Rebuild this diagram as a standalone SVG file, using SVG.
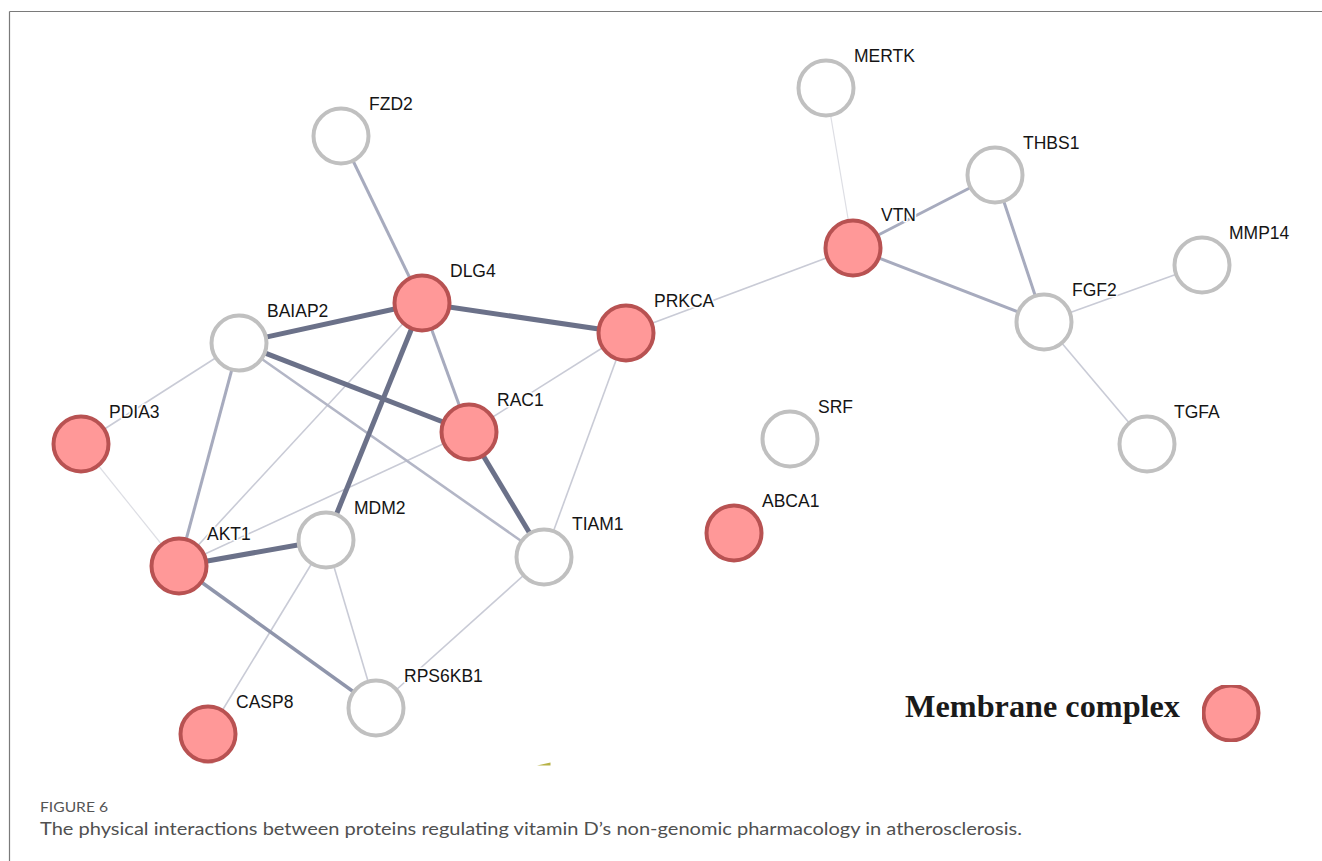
<svg xmlns="http://www.w3.org/2000/svg" width="1322" height="861" viewBox="0 0 1322 861">
<style>
.e1{stroke:#6b7189;stroke-width:5;fill:none}
.e2{stroke:#8f95ab;stroke-width:3.5;fill:none}
.e3{stroke:#a7abbe;stroke-width:3;fill:none}
.e4{stroke:#c9cbd6;stroke-width:1.6;fill:none}
.e5{stroke:#dddee4;stroke-width:1.2;fill:none}
.w circle{fill:#ffffff;stroke:#c0c0c0;stroke-width:4}
.r circle{fill:#ff9898;stroke:#b85252;stroke-width:4}
text.lb{font-family:"Liberation Sans",Arial,sans-serif;font-size:17.5px;fill:#151515;stroke:#ffffff;stroke-width:3;paint-order:stroke;stroke-linejoin:round}
</style>
<defs>
<clipPath id="lgclip"><rect x="1202" y="685" width="60" height="57"/></clipPath>
</defs>
<rect x="0" y="0" width="1322" height="861" fill="#ffffff"/>
<g id="frame">
<line x1="9.5" y1="11.5" x2="1322" y2="11.5" stroke="#7a7a7a" stroke-width="1.2"/>
<line x1="9.5" y1="11.5" x2="9.5" y2="861" stroke="#7a7a7a" stroke-width="1.2"/>
</g>
<g id="connectors">
<line class="e5" x1="81" y1="444" x2="179" y2="566"/>
<line class="e5" x1="826" y1="88" x2="853" y2="248"/>
<line class="e4" x1="239" y1="343" x2="81" y2="444"/>
<line class="e4" x1="422" y1="303" x2="179" y2="566"/>
<line class="e4" x1="469" y1="432" x2="179" y2="566"/>
<line class="e4" x1="469" y1="432" x2="626" y2="333"/>
<line class="e4" x1="626" y1="333" x2="544" y2="557"/>
<line class="e4" x1="326" y1="540" x2="208" y2="734"/>
<line class="e4" x1="326" y1="540" x2="376" y2="708"/>
<line class="e4" x1="544" y1="557" x2="376" y2="708"/>
<line class="e4" x1="626" y1="333" x2="853" y2="248"/>
<line class="e4" x1="1044" y1="322" x2="1202" y2="265"/>
<line class="e4" x1="1044" y1="322" x2="1147" y2="444"/>
<line class="e3" x1="239" y1="343" x2="544" y2="557" style="stroke:#b3b6c6;stroke-width:2.6"/>
<line class="e3" x1="341" y1="136" x2="422" y2="303"/>
<line class="e3" x1="422" y1="303" x2="469" y2="432"/>
<line class="e3" x1="239" y1="343" x2="179" y2="566"/>
<line class="e3" x1="853" y1="248" x2="995" y2="175"/>
<line class="e3" x1="853" y1="248" x2="1044" y2="322"/>
<line class="e3" x1="995" y1="175" x2="1044" y2="322"/>
<line class="e2" x1="179" y1="566" x2="376" y2="708"/>
<line class="e1" x1="239" y1="343" x2="422" y2="303"/>
<line class="e1" x1="422" y1="303" x2="626" y2="333"/>
<line class="e1" x1="422" y1="303" x2="326" y2="540"/>
<line class="e1" x1="239" y1="343" x2="469" y2="432"/>
<line class="e1" x1="469" y1="432" x2="544" y2="557"/>
<line class="e1" x1="179" y1="566" x2="326" y2="540"/>
</g>
<g id="FZD2" class="w"><circle cx="341" cy="136" r="27.5"/><text class="lb" x="369" y="109.5">FZD2</text></g>
<g id="MERTK" class="w"><circle cx="826" cy="88" r="27.5"/><text class="lb" x="854" y="61.5">MERTK</text></g>
<g id="THBS1" class="w"><circle cx="995" cy="175" r="27.5"/><text class="lb" x="1023" y="148.5">THBS1</text></g>
<g id="VTN" class="r"><circle cx="853" cy="248" r="27.5"/><text class="lb" x="881" y="221">VTN</text></g>
<g id="MMP14" class="w"><circle cx="1202" cy="265" r="27.5"/><text class="lb" x="1229" y="238.5">MMP14</text></g>
<g id="DLG4" class="r"><circle cx="422" cy="303" r="27.5"/><text class="lb" x="450" y="276.5">DLG4</text></g>
<g id="BAIAP2" class="w"><circle cx="239" cy="343" r="27.5"/><text class="lb" x="267" y="316.5">BAIAP2</text></g>
<g id="PRKCA" class="r"><circle cx="626" cy="333" r="27.5"/><text class="lb" x="654" y="306.5">PRKCA</text></g>
<g id="FGF2" class="w"><circle cx="1044" cy="322" r="27.5"/><text class="lb" x="1072" y="295.5">FGF2</text></g>
<g id="RAC1" class="r"><circle cx="469" cy="432" r="27.5"/><text class="lb" x="497" y="405.5">RAC1</text></g>
<g id="PDIA3" class="r"><circle cx="81" cy="444" r="27.5"/><text class="lb" x="109" y="417.5">PDIA3</text></g>
<g id="SRF" class="w"><circle cx="790" cy="439" r="27.5"/><text class="lb" x="818" y="412.5">SRF</text></g>
<g id="TGFA" class="w"><circle cx="1147" cy="444" r="27.5"/><text class="lb" x="1174" y="417.5">TGFA</text></g>
<g id="ABCA1" class="r"><circle cx="734" cy="533" r="27.5"/><text class="lb" x="762" y="506.5">ABCA1</text></g>
<g id="TIAM1" class="w"><circle cx="544" cy="557" r="27.5"/><text class="lb" x="572" y="530">TIAM1</text></g>
<g id="MDM2" class="w"><circle cx="326" cy="540" r="27.5"/><text class="lb" x="354" y="513.5">MDM2</text></g>
<g id="AKT1" class="r"><circle cx="179" cy="566" r="27.5"/><text class="lb" x="207" y="539.5">AKT1</text></g>
<g id="RPS6KB1" class="w"><circle cx="376" cy="708" r="27.5"/><text class="lb" x="404" y="681.5">RPS6KB1</text></g>
<g id="CASP8" class="r"><circle cx="208" cy="734" r="27.5"/><text class="lb" x="236" y="707.5">CASP8</text></g>
<g id="legend">
<text x="905" y="717" font-family="'Liberation Serif','Times New Roman',serif" font-weight="bold" font-size="31" fill="#1a1a1a" textLength="275" lengthAdjust="spacingAndGlyphs">Membrane complex</text>
<g class="r" clip-path="url(#lgclip)"><circle cx="1231" cy="713" r="27.5"/></g>
</g>
<polygon points="537,765.5 550.5,762.5 550.5,765.5" fill="#b7b246"/>
<g id="caption">
<text x="40" y="812" font-family="Lato,'Open Sans',sans-serif" font-size="14" fill="#555555" textLength="68" lengthAdjust="spacingAndGlyphs">FIGURE 6</text>
<text x="40" y="835" font-family="Lato,'Open Sans',sans-serif" font-size="17.5" fill="#505050" textLength="982" lengthAdjust="spacingAndGlyphs">The physical interactions between proteins regulating vitamin D’s non-genomic pharmacology in atherosclerosis.</text>
</g>
</svg>
